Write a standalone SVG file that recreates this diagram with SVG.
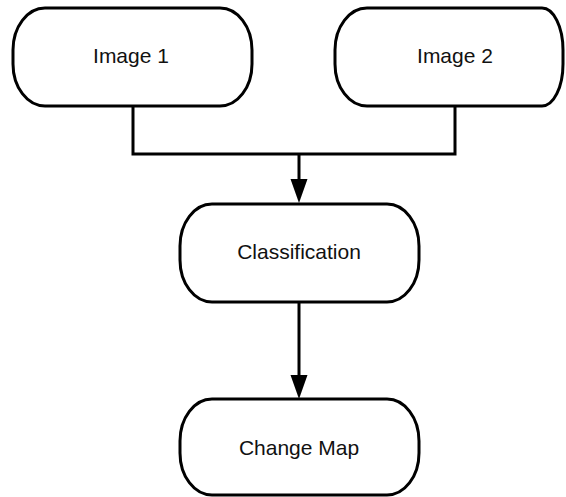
<svg xmlns="http://www.w3.org/2000/svg" width="566" height="497" viewBox="0 0 566 497">
  <style>
    .box { fill: #ffffff; stroke: #000000; stroke-width: 3; }
    .label { font-family: "Liberation Sans", Arial, sans-serif; font-size: 21px; fill: #111111; text-anchor: middle; }
    .wire { fill: none; stroke: #000000; stroke-width: 3; }
    .head { fill: #000000; }
  </style>

  <g id="connectors">
    <path class="wire" d="M133,106 V154 H455 V106"/>
    <path class="wire" d="M299,154 V180"/>
    <path class="head" d="M290.5,179 L307.5,179 L299,203 Z"/>
    <path class="wire" d="M299,302 V376"/>
    <path class="head" d="M290.5,375 L307.5,375 L299,399 Z"/>
  </g>

  <g id="image1">
    <rect class="box" x="13" y="8" width="239" height="98" rx="32" ry="42"/>
    <text class="label" x="131" y="63">Image 1</text>
  </g>

  <g id="image2">
    <path class="box" d="M367,8 H542 A21,42 0 0 1 563,50 V64 A21,42 0 0 1 542,106 H367 A32,42 0 0 1 335,64 V50 A32,42 0 0 1 367,8 Z"/>
    <text class="label" x="455" y="63">Image 2</text>
  </g>

  <g id="classification">
    <rect class="box" x="180" y="204" width="239" height="98" rx="32" ry="42"/>
    <text class="label" x="299" y="259">Classification</text>
  </g>

  <g id="change-map">
    <rect class="box" x="180" y="399" width="239" height="96" rx="32" ry="42"/>
    <text class="label" x="299" y="455">Change Map</text>
  </g>
</svg>
